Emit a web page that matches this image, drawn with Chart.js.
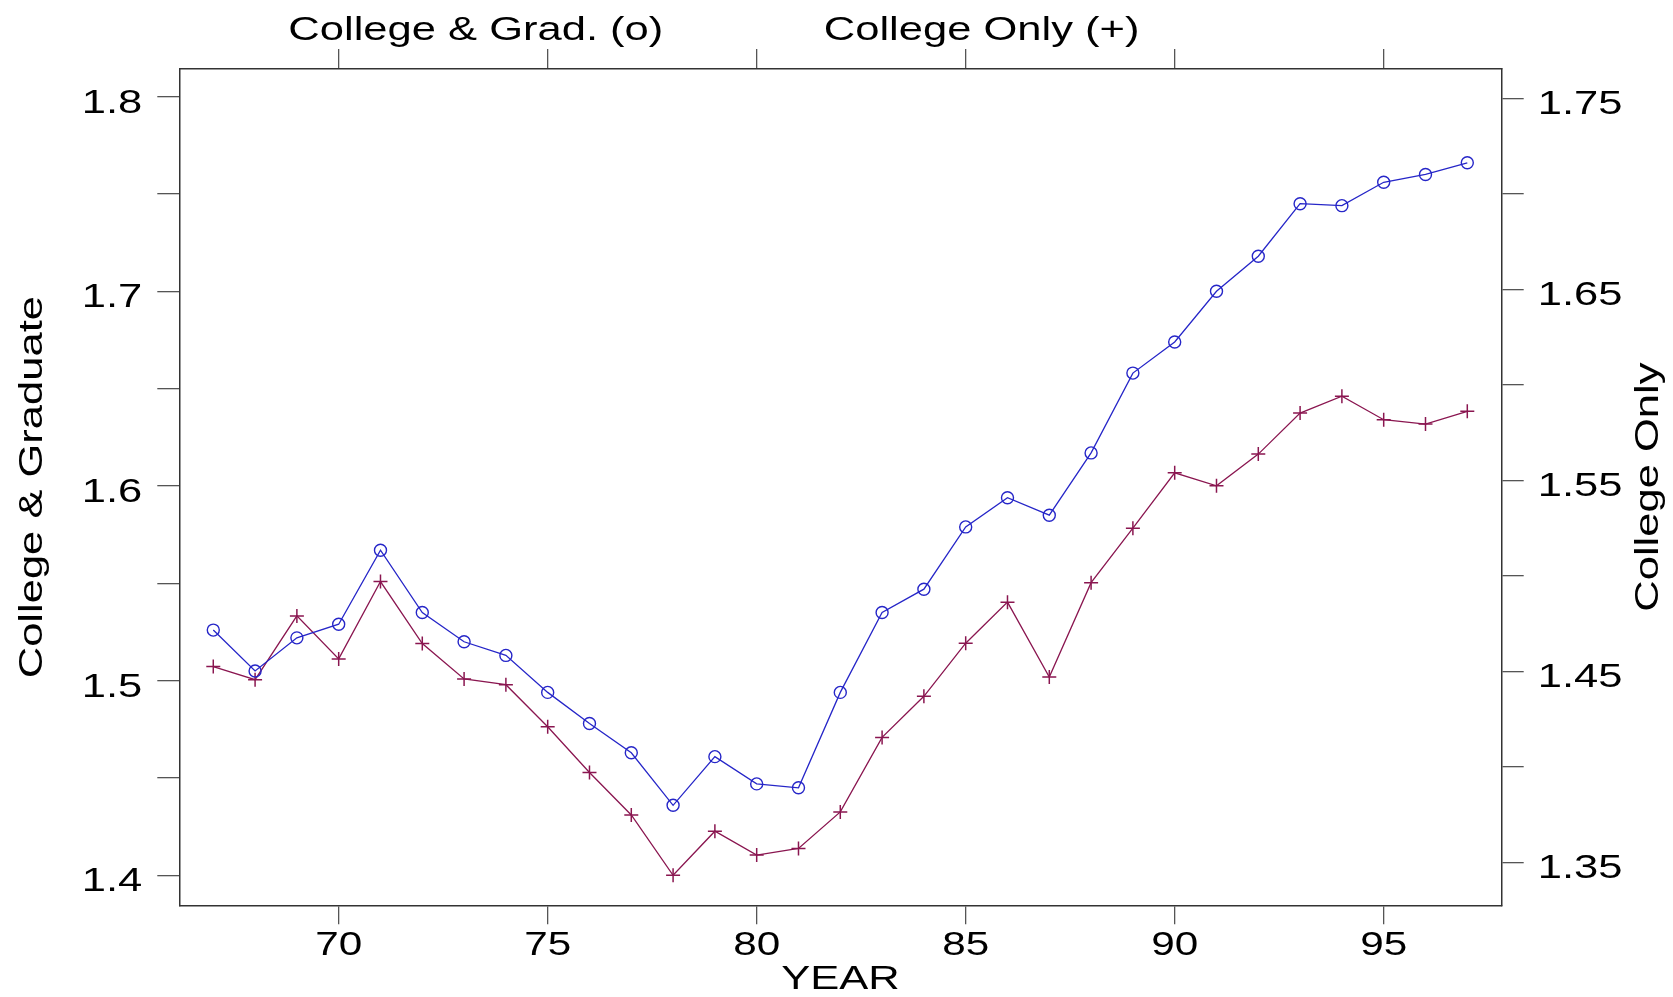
<!DOCTYPE html>
<html>
<head>
<meta charset="utf-8">
<script src="https://cdn.jsdelivr.net/npm/chart.js@4/dist/chart.umd.min.js"></script>
<style>
  html, body { margin: 0; padding: 0; background: #fff; }
  canvas { display: block; }
</style>
</head>
<body>
<canvas id="wageChart" width="1673" height="997"></canvas>
<script>
// data
var years = [67, 68, 69, 70, 71, 72, 73, 74, 75, 76, 77, 78, 79, 80, 81, 82,
             83, 84, 85, 86, 87, 88, 89, 90, 91, 92, 93, 94, 95, 96, 97];
var collegeGrad = [1.526, 1.505, 1.522, 1.529, 1.567, 1.535, 1.520, 1.513, 1.494, 1.478, 1.463,
                   1.436, 1.461, 1.447, 1.445, 1.494, 1.535, 1.547, 1.579, 1.594, 1.585, 1.617,
                   1.658, 1.674, 1.700, 1.718, 1.745, 1.744, 1.756, 1.760, 1.766];
var collegeOnly = [1.4525, 1.4456, 1.479, 1.4565, 1.497, 1.4645, 1.446, 1.443, 1.421, 1.397, 1.3748,
                   1.3432, 1.3663, 1.3538, 1.3573, 1.3764, 1.4154, 1.4369, 1.4647, 1.4862, 1.447,
                   1.4964, 1.5249, 1.5539, 1.5471, 1.5637, 1.5852, 1.594, 1.5817, 1.5794, 1.5861];

var xTicks = [70, 75, 80, 85, 90, 95];
var leftTicks = [1.4, 1.45, 1.5, 1.55, 1.6, 1.65, 1.7, 1.75, 1.8];
var leftTickLabels = ['1.4', '', '1.5', '', '1.6', '', '1.7', '', '1.8'];
var rightTicks = [1.35, 1.4, 1.45, 1.5, 1.55, 1.6, 1.65, 1.7, 1.75];
var rightTickLabels = ['1.35', '', '1.45', '', '1.55', '', '1.65', '', '1.75'];
var headerLabels = ['College & Grad. (o)', 'College Only (+)'];

var FONT = '"Liberation Sans", Arial, sans-serif';
var TEXT_STRETCH = 1.28; // the original lettering is wider than Arial

var canvas = document.getElementById('wageChart');
var ctx = canvas.getContext('2d');

// stretch every piece of text along its baseline
var baseFillText = ctx.fillText;
ctx.fillText = function (text, x, y) {
    this.save();
    this.translate(x, y);
    this.scale(TEXT_STRETCH, 1);
    baseFillText.call(this, text, 0, 0);
    this.restore();
};

function toPoints(values) {
    return values.map(function (v, i) { return { x: years[i], y: v }; });
}

function setTicks(list) {
    return function (scale) {
        scale.ticks = list.map(function (v) { return { value: v }; });
    };
}

var axisGrid = { drawOnChartArea: false, color: '#555', lineWidth: 1.3, tickLength: 22 };
var axisBorder = { display: true, color: '#333', width: 1.5 };

// header labels and the right-hand title
var extraText = {
    id: 'extraText',
    afterDraw: function (chart) {
        var c = chart.ctx;
        var x = chart.scales.x;
        var y2 = chart.scales.y2;
        c.save();
        c.fillStyle = '#000';
        c.font = '34px ' + FONT;
        c.textAlign = 'center';
        c.textBaseline = 'alphabetic';
        c.fillText(headerLabels[0], x.getPixelForValue(73.28), chart.chartArea.top - 29.5);
        c.fillText(headerLabels[1], x.getPixelForValue(85.38), chart.chartArea.top - 29.5);

        c.translate(y2.right - 15.5, (y2.top + y2.bottom) / 2);
        c.rotate(-Math.PI / 2);
        c.fillText('College Only', 0, 0);
        c.restore();
    }
};

var chartData = {
    datasets: [
        {
            label: 'College & Graduate',
            data: toPoints(collegeGrad),
            xAxisID: 'x',
            yAxisID: 'y',
            borderColor: '#2626c8',
            borderWidth: 1.3,
            pointStyle: 'circle',
            pointRadius: 6,
            pointBorderWidth: 1.4,
            pointBorderColor: '#2626c8',
            pointBackgroundColor: 'rgba(0,0,0,0)'
        },
        {
            label: 'College Only',
            data: toPoints(collegeOnly),
            xAxisID: 'x',
            yAxisID: 'y2',
            borderColor: '#8a1650',
            borderWidth: 1.3,
            pointStyle: 'cross',
            pointRadius: 7,
            pointBorderWidth: 1.5,
            pointBorderColor: '#8a1650'
        }
    ]
};

var chartOptions = {
    responsive: false,
    animation: false,
    events: [],
    layout: { padding: 0 },
    plugins: { legend: { display: false }, tooltip: { enabled: false } },
    scales: {
        x: {
            type: 'linear',
            position: 'bottom',
            min: 66.187,
            max: 97.823,
            afterBuildTicks: setTicks(xTicks),
            afterFit: function (s) { s.height = 91.7; },
            grid: Object.assign({}, axisGrid, { tickLength: 19 }),
            border: axisBorder,
            ticks: {
                autoSkip: false,
                maxRotation: 0,
                padding: 1.5,
                color: '#000',
                font: { family: FONT, size: 33 },
                callback: function (v) { return String(v); }
            },
            title: {
                display: true,
                text: 'YEAR',
                color: '#000',
                padding: { top: 0, bottom: 0 },
                font: { family: FONT, size: 34, lineHeight: 1 }
            }
        },
        x2: {
            type: 'linear',
            position: 'top',
            min: 66.187,
            max: 97.823,
            afterBuildTicks: setTicks(xTicks),
            afterFit: function (s) { s.height = 69; },
            grid: Object.assign({}, axisGrid, { tickLength: 20 }),
            border: axisBorder,
            ticks: { display: false }
        },
        y: {
            type: 'linear',
            position: 'left',
            min: 1.38464,
            max: 1.81418,
            afterBuildTicks: setTicks(leftTicks),
            afterFit: function (s) { s.width = 179.3; },
            grid: axisGrid,
            border: axisBorder,
            ticks: {
                autoSkip: false,
                padding: 15,
                labelOffset: 6.6,
                color: '#000',
                font: { family: FONT, size: 34 },
                callback: function (v, i) { return leftTickLabels[i]; }
            },
            title: {
                display: true,
                text: 'College & Graduate',
                color: '#000',
                padding: { top: 16, bottom: 0 },
                font: { family: FONT, size: 34, lineHeight: 1 }
            }
        },
        y2: {
            type: 'linear',
            position: 'right',
            min: 1.3275,
            max: 1.7653,
            afterBuildTicks: setTicks(rightTicks),
            afterFit: function (s) { s.width = 171.3; },
            grid: axisGrid,
            border: axisBorder,
            ticks: {
                autoSkip: false,
                padding: 14,
                labelOffset: 6.6,
                color: '#000',
                font: { family: FONT, size: 34 },
                callback: function (v, i) { return rightTickLabels[i]; }
            }
        }
    }
};

var wageChart = new Chart(ctx, {
    type: 'line',
    data: chartData,
    options: chartOptions,
    plugins: [extraText]
});
</script>
</body>
</html>
